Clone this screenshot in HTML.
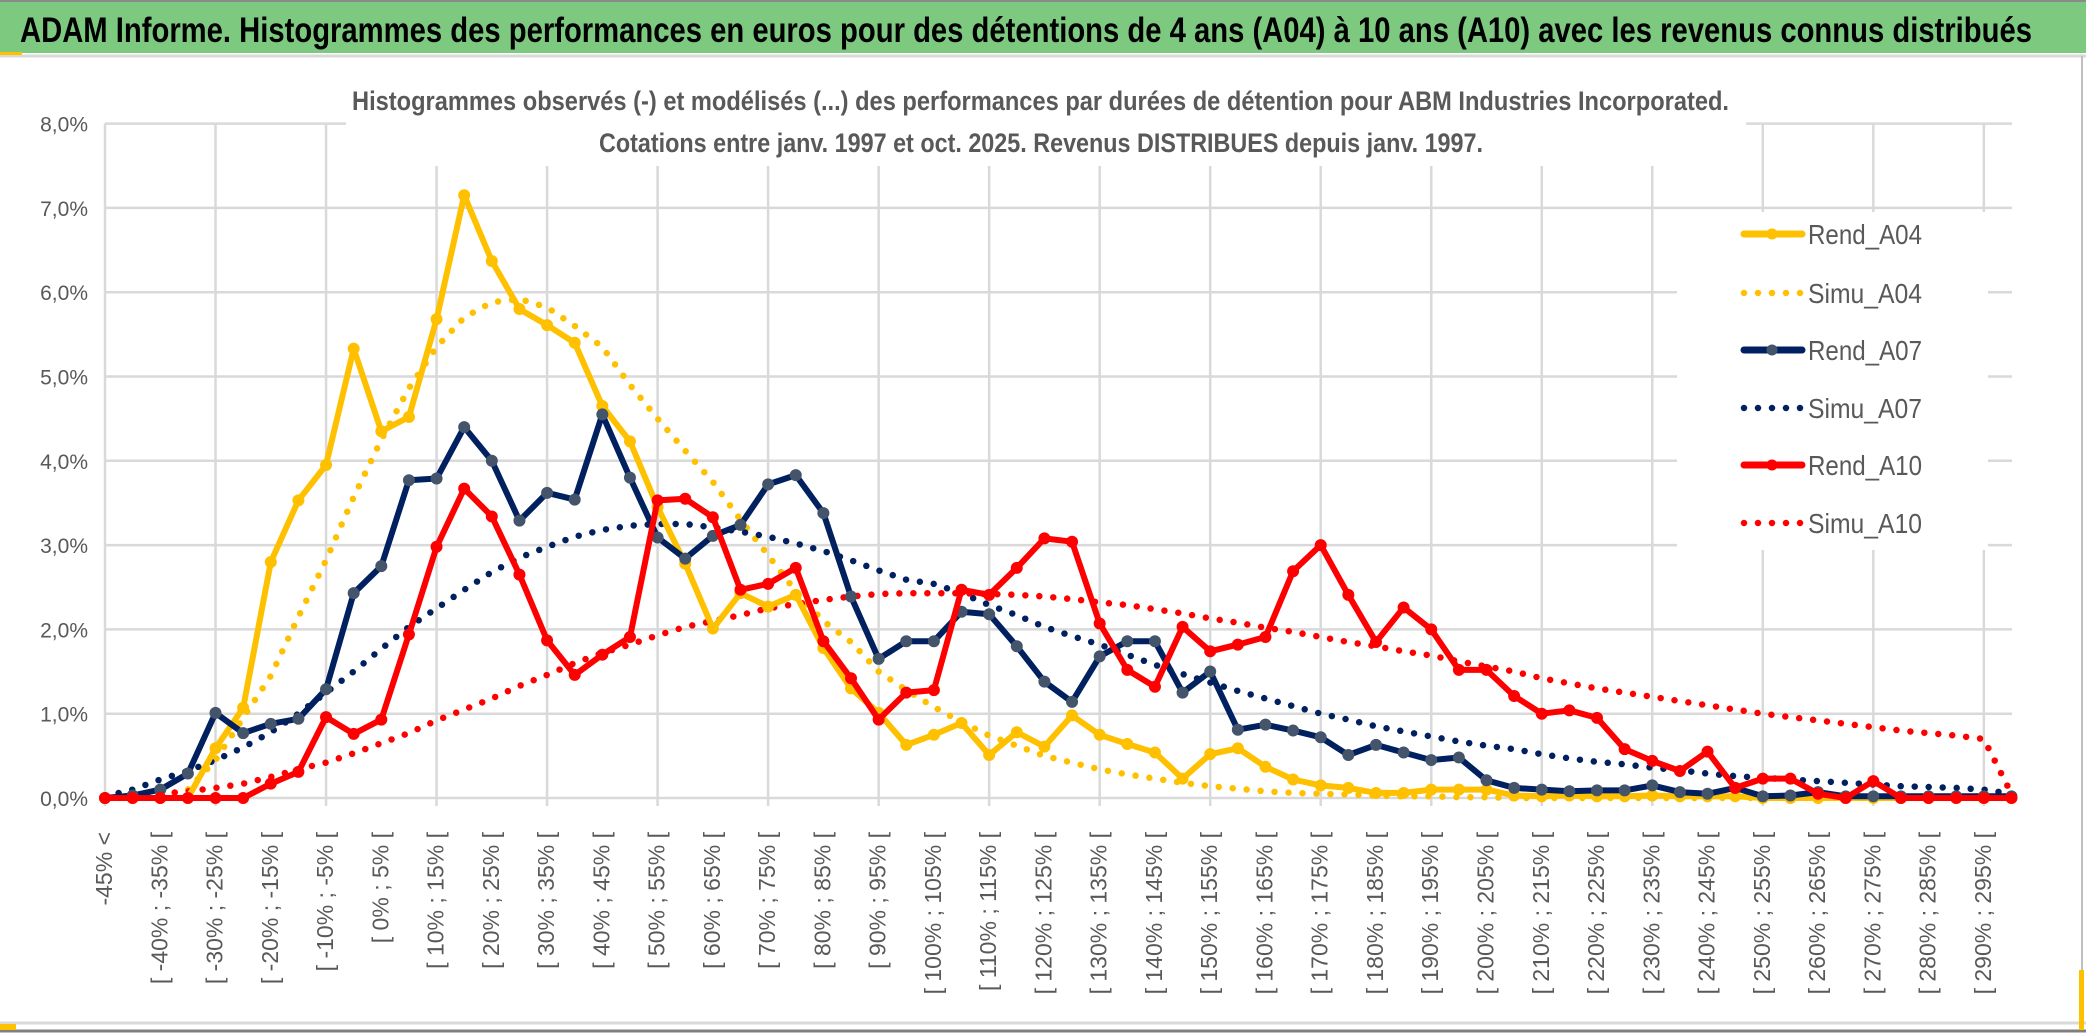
<!DOCTYPE html>
<html><head><meta charset="utf-8"><title>ADAM Informe</title>
<style>
html,body{margin:0;padding:0;background:#fff;}
svg{display:block;}
text{font-family:"Liberation Sans Narrow","Liberation Sans",sans-serif;}
</style></head>
<body>
<svg id="chart" xmlns="http://www.w3.org/2000/svg" width="2086" height="1033" viewBox="0 0 2086 1033">
  <rect x="0" y="0" width="2086" height="1033" fill="#ffffff"/>
  <rect x="0" y="2" width="2086" height="51" fill="#7dc97f"/>
  <line x1="0" y1="1" x2="2086" y2="1" stroke="#8a8a8a" stroke-width="2"/>
  <line x1="0" y1="56" x2="2086" y2="56" stroke="#d9d9d9" stroke-width="3"/>
  <rect x="0" y="52" width="22" height="3" fill="#ffc000"/>
  <text x="20" y="42" font-size="35" font-weight="bold" fill="#000" textLength="2012" lengthAdjust="spacingAndGlyphs">ADAM Informe. Histogrammes des performances en euros pour des détentions de 4 ans (A04) à 10 ans (A10) avec les revenus connus distribués</text>
  <line x1="0" y1="1023" x2="2086" y2="1023" stroke="#d9d9d9" stroke-width="3"/>
  <line x1="0" y1="1031" x2="2086" y2="1031" stroke="#7f7f7f" stroke-width="3"/>
  <rect x="0" y="1024" width="16" height="6" fill="#ffc000"/>
  <line x1="2082" y1="56" x2="2082" y2="1023" stroke="#bfbfbf" stroke-width="2"/>
  <rect x="2079" y="970" width="5" height="60" fill="#ffc000"/>
  <g id="grid"></g>
  <g id="ylabels"></g>
  <g id="xlabels"></g>
  <g id="series"></g>
  <rect x="346" y="116" width="1400" height="50" fill="#ffffff"/>
  <text x="352" y="110" font-size="27" font-weight="bold" fill="#595959" textLength="1377" lengthAdjust="spacingAndGlyphs">Histogrammes observés (-) et modélisés (...) des performances par durées de détention pour ABM Industries Incorporated.</text>
  <text x="599" y="152" font-size="27" font-weight="bold" fill="#595959" textLength="884" lengthAdjust="spacingAndGlyphs">Cotations entre janv. 1997 et oct. 2025. Revenus DISTRIBUES depuis janv. 1997.</text>
  <g id="legend"></g>
</svg>
<script>
const NS = "http://www.w3.org/2000/svg";
const yTicks = [0,1,2,3,4,5,6,7,8];
const yTickLabels = ["0,0%","1,0%","2,0%","3,0%","4,0%","5,0%","6,0%","7,0%","8,0%"];
const nCats = 70;
const categories = [];
for (let k = 0; k < nCats; k++) {
  if (k === 0) categories.push("-45% <");
  else { const lo = -45 + 5*(k-1); categories.push("[ " + lo + "% ; " + (lo+5) + "% ["); }
}
const rendA04 = [0,0,0,0,0.59,1.07,2.80,3.53,3.95,5.33,4.35,4.52,5.68,7.15,6.37,5.80,5.61,5.40,4.65,4.23,3.45,2.78,2.01,2.43,2.27,2.41,1.78,1.30,1.01,0.63,0.75,0.89,0.51,0.78,0.61,0.98,0.75,0.64,0.54,0.23,0.52,0.59,0.37,0.22,0.15,0.12,0.06,0.06,0.10,0.10,0.10,0.03,0.02,0.03,0.02,0.02,0.03,0.02,0.02,0.02,0,0,0,0,0,0,0,0,0,0];
const simuA04 = [0,0,0.02,0.1,0.45,0.95,1.45,2.15,2.82,3.57,4.25,4.86,5.35,5.7,5.88,5.92,5.82,5.6,5.35,4.9,4.5,4.12,3.75,3.3,2.88,2.45,2.1,1.85,1.5,1.28,1.08,0.9,0.74,0.62,0.5,0.42,0.34,0.28,0.23,0.18,0.14,0.11,0.08,0.06,0.05,0.04,0.03,0.02,0.02,0.01,0.01,0,0,0,0,0,0,0,0,0,0,0,0,0,0,0,0,0,0,0];
const rendA07 = [0,0.03,0.1,0.29,1.01,0.77,0.88,0.94,1.29,2.43,2.75,3.77,3.79,4.40,4.00,3.29,3.62,3.54,4.55,3.80,3.09,2.84,3.11,3.24,3.72,3.83,3.38,2.39,1.65,1.86,1.86,2.21,2.18,1.80,1.38,1.14,1.68,1.86,1.86,1.25,1.50,0.81,0.87,0.80,0.72,0.51,0.63,0.54,0.45,0.48,0.21,0.12,0.10,0.08,0.09,0.09,0.15,0.07,0.05,0.12,0.02,0.03,0.07,0.02,0.02,0.02,0.02,0.02,0.02,0.02];
const simuA07 = [0.02,0.1,0.22,0.32,0.45,0.6,0.78,1.0,1.25,1.5,1.77,2.03,2.25,2.47,2.68,2.85,2.98,3.1,3.18,3.23,3.25,3.25,3.21,3.16,3.1,3.02,2.93,2.82,2.7,2.59,2.54,2.43,2.29,2.17,2.03,1.92,1.82,1.7,1.58,1.47,1.37,1.27,1.18,1.09,1.0,0.93,0.85,0.79,0.73,0.67,0.62,0.58,0.52,0.47,0.43,0.4,0.36,0.33,0.29,0.26,0.24,0.22,0.2,0.18,0.16,0.14,0.13,0.12,0.1,0.05];
const rendA10 = [0,0,0,0,0,0,0.17,0.31,0.96,0.76,0.93,1.94,2.98,3.67,3.34,2.65,1.87,1.46,1.70,1.91,3.53,3.55,3.33,2.47,2.54,2.73,1.86,1.42,0.93,1.25,1.28,2.47,2.41,2.73,3.08,3.04,2.07,1.52,1.32,2.03,1.74,1.82,1.91,2.69,3.00,2.41,1.85,2.26,2.00,1.52,1.52,1.21,1.00,1.04,0.95,0.58,0.44,0.32,0.55,0.12,0.23,0.23,0.05,0,0.2,0,0,0,0,0];
const simuA10 = [0,0.02,0.05,0.08,0.12,0.17,0.25,0.34,0.42,0.53,0.65,0.77,0.92,1.05,1.18,1.33,1.46,1.6,1.72,1.82,1.93,2.03,2.1,2.17,2.25,2.3,2.35,2.39,2.42,2.43,2.43,2.43,2.42,2.41,2.39,2.36,2.32,2.29,2.24,2.19,2.13,2.08,2.02,1.97,1.91,1.85,1.8,1.74,1.69,1.62,1.56,1.5,1.42,1.36,1.3,1.25,1.2,1.15,1.1,1.05,1.0,0.96,0.92,0.88,0.84,0.8,0.77,0.74,0.7,0.05];
const seriesNames = ["Rend_A04","Simu_A04","Rend_A07","Simu_A07","Rend_A10","Simu_A10"];

const X0 = 105, DX = 27.63, Y0 = 798, DY = 84.3, XR = 2012;
function xPos(i){ return X0 + DX*i; }
function yPos(v){ return Y0 - DY*v; }
function mk(tag, attrs, parent){
  const e = document.createElementNS(NS, tag);
  for (const k in attrs) e.setAttribute(k, attrs[k]);
  parent.appendChild(e);
  return e;
}
const grid = document.getElementById("grid");
const ylab = document.getElementById("ylabels");
const xlab = document.getElementById("xlabels");
const ser = document.getElementById("series");
const leg = document.getElementById("legend");

for (let t = 0; t < yTicks.length; t++) {
  const y = yPos(yTicks[t]);
  const l = mk("line", {x1:X0, y1:y, x2:XR, y2:y, stroke:"#d9d9d9", "stroke-width":2.5}, grid);
  
  
  const tx = mk("text", {x:88, y:y+8, "font-size":21, fill:"#595959", "text-anchor":"end"}, ylab);
  tx.textContent = yTickLabels[t];
  
  
}
for (let i = 0; i < nCats; i += 4) {
  const x = xPos(i);
  const l = mk("line", {x1:x, y1:yPos(8), x2:x, y2:Y0+8, stroke:"#d9d9d9", "stroke-width":2.5}, grid);
  
  
}
for (let i = 0; i < nCats; i += 2) {
  const x = xPos(i) + 7;
  const tx = mk("text", {x:0, y:0, "font-size":23, fill:"#595959", "text-anchor":"end", "font-family":"Liberation Sans, sans-serif", transform:"translate(" + x + ",832) rotate(-90)"}, xlab);
  tx.textContent = categories[i];
  
  
}

function dotted(arr, color, name){
  const pts = arr.map((v,i) => xPos(i).toFixed(1) + "," + yPos(v).toFixed(1)).join(" ");
  const p = mk("polyline", {points:pts, fill:"none", stroke:color, "stroke-width":6.5, "stroke-dasharray":"0 14", "stroke-linecap":"round", "stroke-linejoin":"round"}, ser);
  
  
}
function solid(arr, color, mcolor, name){
  const pts = arr.map((v,i) => xPos(i).toFixed(1) + "," + yPos(v).toFixed(1)).join(" ");
  const p = mk("polyline", {points:pts, fill:"none", stroke:color, "stroke-width":6, "stroke-linejoin":"round", "stroke-linecap":"round"}, ser);
  
  
  for (let i = 0; i < arr.length; i++) {
    const c = mk("circle", {cx:xPos(i), cy:yPos(arr[i]), r:5.5, fill:mcolor, stroke:mcolor, "stroke-width":1}, ser);
    
    
  }
}
dotted(simuA04, "#ffc000", "simu-a04-line");
dotted(simuA07, "#002060", "simu-a07-line");
dotted(simuA10, "#ff0000", "simu-a10-line");
solid(rendA04, "#ffc000", "#ffc000", "rend-a04-line");
solid(rendA07, "#002060", "#44546a", "rend-a07-line");
solid(rendA10, "#ff0000", "#ff0000", "rend-a10-line");

const bg = mk("rect", {x:1677, y:212, width:311, height:338, fill:"#ffffff"}, leg);


const legColors = ["#ffc000","#ffc000","#002060","#002060","#ff0000","#ff0000"];
const legMarker = ["#ffc000",null,"#44546a",null,"#ff0000",null];
const legY = [234,293,350,408,465,523];
for (let k = 0; k < 6; k++) {
  const y = legY[k];
  const g = mk("g", {}, leg);
  
  
  if (legMarker[k]) {
    mk("line", {x1:1744, y1:y, x2:1802, y2:y, stroke:legColors[k], "stroke-width":7, "stroke-linecap":"round"}, g);
    mk("circle", {cx:1772, cy:y, r:5.5, fill:legMarker[k]}, g);
  } else {
    mk("line", {x1:1744, y1:y, x2:1804, y2:y, stroke:legColors[k], "stroke-width":6.5, "stroke-dasharray":"0 14", "stroke-linecap":"round"}, g);
  }
  const t = mk("text", {x:1808, y:y+10, "font-size":28, fill:"#595959", textLength:114, lengthAdjust:"spacingAndGlyphs"}, g);
  t.textContent = seriesNames[k];
}
</script>
</body></html>
